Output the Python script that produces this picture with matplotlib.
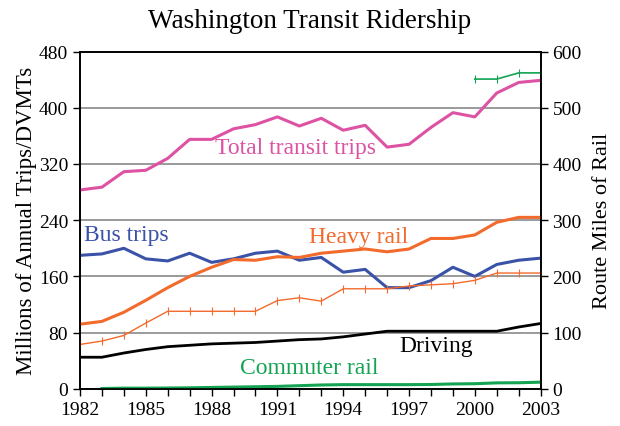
import numpy as np
import matplotlib
matplotlib.use("Agg")
import matplotlib.pyplot as plt

plt.rcParams['font.family'] = ['Liberation Serif', 'DejaVu Serif']

# Données
years = list(range(1982, 2004))
total_transit = [283, 287, 309, 311, 328, 355, 355, 370, 376, 387, 374, 385,
                 368, 375, 344, 348, 372, 393, 387, 421, 436, 439]
bus_trips = [190, 192, 200, 185, 182, 193, 180, 185, 193, 196, 183, 187,
             166, 170, 144, 144, 154, 173, 160, 177, 183, 186]
heavy_rail = [92, 96, 109, 126, 144, 160, 173, 184, 183, 188, 187, 193,
              196, 199, 195, 199, 214, 214, 219, 237, 244, 244]
driving = [45, 45, 51, 56, 60, 62, 64, 65, 66, 68, 70, 71,
           74, 78, 82, 82, 82, 82, 82, 82, 88, 93]
commuter_years = list(range(1983, 2004))
commuter_rail = [0.5, 1, 1, 1.2, 1.5, 2, 2.5, 3, 3.5, 4.5, 5.5,
                 6, 6, 6, 6, 6.2, 7, 7.3, 8.5, 8.7, 9.5]
# route miles (axe droit)
heavy_miles = [79, 85, 95, 117, 138, 138, 138, 138, 138, 157, 162, 156,
               178, 178, 178, 183, 185, 187, 193, 206, 206, 206]
commuter_miles_years = [2000, 2001, 2002, 2003]
commuter_miles = [551, 551, 562, 562]

pink = "#DD52A3"
blue = "#3A52A8"
orange = "#F26A2C"
green = "#14A352"

fig = plt.figure(figsize=(6.2, 4.27), dpi=100)
ax = fig.add_axes([0.129, 0.087, 0.743, 0.79])
ax2 = ax.twinx()

ax.plot(years, total_transit, color=pink, lw=2.2, zorder=3)
ax.plot(years, bus_trips, color=blue, lw=2.2, zorder=3)
ax.plot(years, heavy_rail, color=orange, lw=2.2, zorder=3)
ax.plot(years, driving, color="black", lw=2.0, zorder=3)
ax.plot(commuter_years, commuter_rail, color=green, lw=2.2, zorder=3)

ax2.plot(years, heavy_miles, color=orange, lw=1.0, marker='|', ms=6, mew=0.8)
ax2.plot(commuter_miles_years, commuter_miles, color=green, lw=1.2, marker='|', ms=6, mew=0.8)

# axe x
ax.set_xlim(1982, 2003)
ax.set_xticks(range(1982, 2004), minor=True)
ax.set_xticks(range(1982, 2004, 3))
ax.tick_params(axis='x', which='both', direction='out', length=5, width=1, labelsize=14)

# axes y
ax.set_ylim(0, 480)
ax.set_yticks(range(0, 481, 80))
ax.tick_params(axis='y', direction='out', length=5, width=1, labelsize=14)
ax.grid(axis='y', color="#8A8A8A", lw=1.2, zorder=1)
ax2.set_ylim(0, 600)
ax2.set_yticks(range(0, 601, 100))
ax2.tick_params(axis='y', direction='out', length=5, width=1, labelsize=14)

for a in (ax, ax2):
    for s in a.spines.values():
        s.set_linewidth(1.2)
        s.set_color("black")

ax.set_ylabel("Millions of Annual Trips/DVMTs", fontsize=16.5, labelpad=1)
ax2.set_ylabel("Route Miles of Rail", fontsize=16, labelpad=8)
fig.suptitle("Washington Transit Ridership", fontsize=19.5, y=0.978)

# Étiquettes des séries
ax.text(1988.15, 343, "Total transit trips", color=pink, fontsize=17, va='center')
ax.text(1982.2, 219, "Bus trips", color=blue, fontsize=17, va='center')
ax.text(1992.45, 217, "Heavy rail", color=orange, fontsize=17, va='center')
ax.text(1996.55, 61, "Driving", color="black", fontsize=17, va='center')
ax.text(1989.3, 31, "Commuter rail", color=green, fontsize=17, va='center')

fig.savefig("out.png", dpi=100)
